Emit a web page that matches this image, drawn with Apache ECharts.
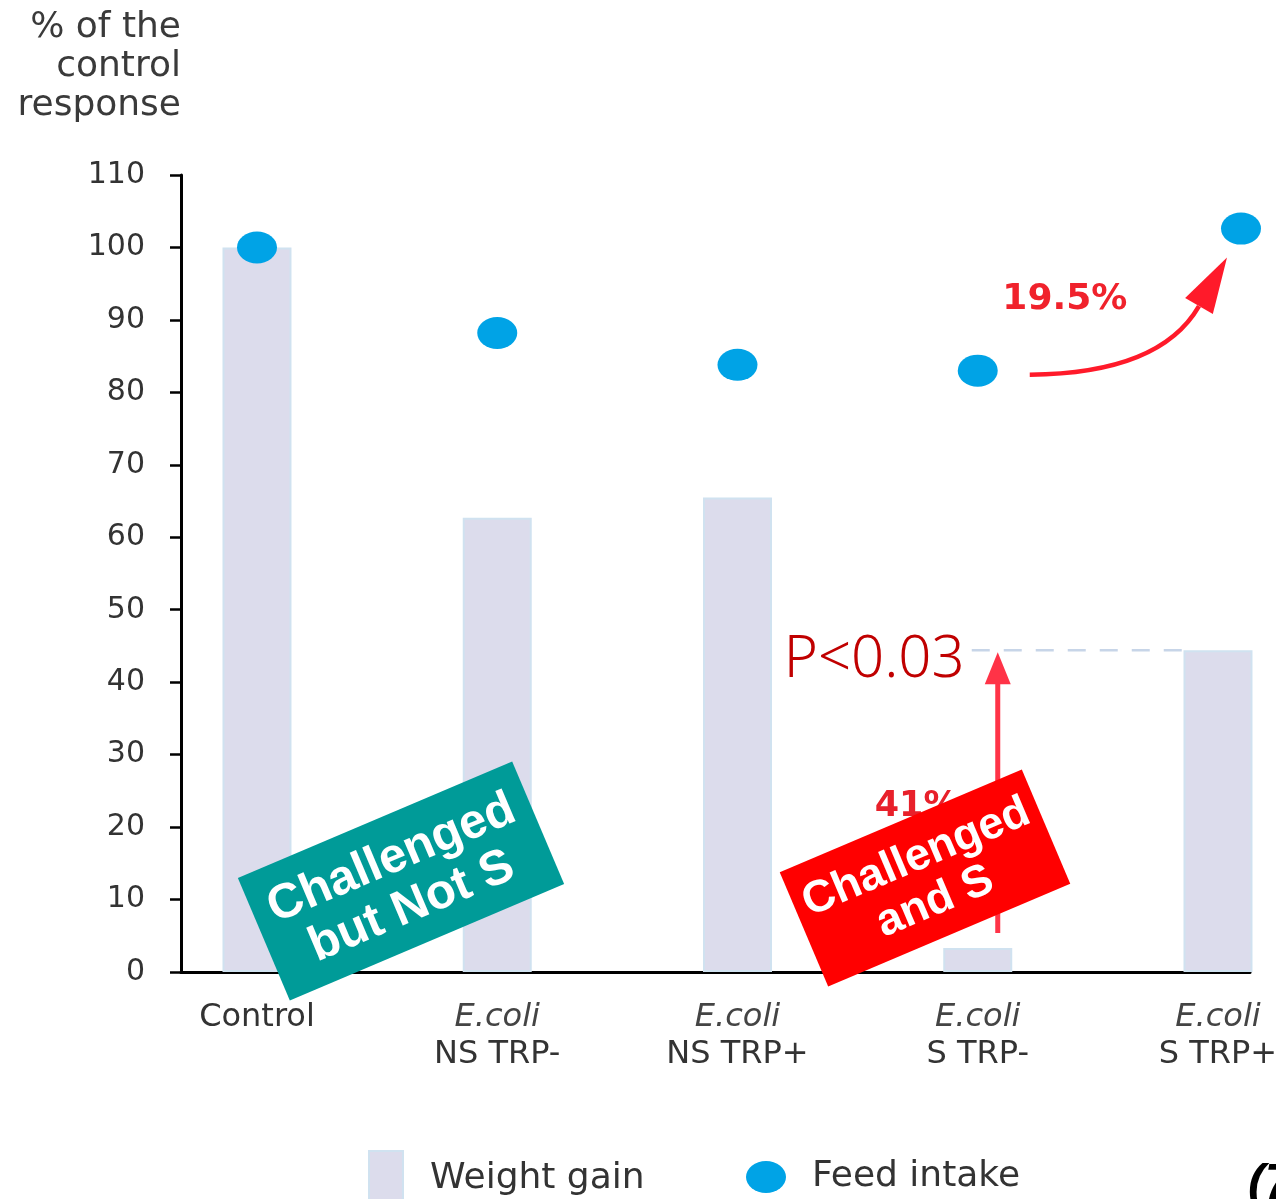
<!DOCTYPE html>
<html>
<head>
<meta charset="utf-8">
<script src="https://cdn.jsdelivr.net/npm/echarts@6/dist/echarts.min.js"></script>
<style>
  html, body { margin: 0; padding: 0; background: #fff; }
  #chart { width: 1276px; height: 1199px; }
</style>
</head>
<body>
<div id="chart"></div>
<script>
// Treatment groups (x positions are the group index on the value axis)
const groupPrefix = ['', 'E.coli', 'E.coli', 'E.coli', 'E.coli'];
const groupNames = ['Control', 'NS TRP-', 'NS TRP+', 'S TRP-', 'S TRP+'];

// Responses as % of the control
const weightGain = [100, 62.7, 65.5, 3.3, 44.4];
const feedIntake = [100, 88.2, 83.8, 83.0, 102.6];

// Annotation texts
const gainNote = '41%';
const intakeNote = '19.5%';
const pNote = 'P<0.03';

const FONT = 'DejaVu Sans';
const ELLIPSE = 'path://M0,16 A20,16 0 1,1 40,16 A20,16 0 1,1 0,16 Z';
const LAST_DOT_SHIFT = 23;

const chart = echarts.init(document.getElementById('chart'), null, { renderer: 'canvas' });

const barData = weightGain.map((v, i) => [i, v]);
const dotData = feedIntake.map((v, i) => {
  const item = { value: [i, v] };
  if (i === feedIntake.length - 1) item.symbolOffset = [LAST_DOT_SHIFT, 0];
  return item;
});

chart.setOption({
  animation: false,
  backgroundColor: '#fff',
  grid: { left: 181, right: 26, top: 175, bottom: 227, outerBoundsMode: 'none', containLabel: false },
  legend: [
    {
      data: ['Weight gain'], left: 368, top: 1150, padding: 0,
      icon: 'rect', itemWidth: 34, itemHeight: 56,
      textStyle: { fontSize: 36, color: '#333', fontFamily: FONT, padding: [0, 0, 0, 22] }
    },
    {
      data: ['Feed intake'], left: 746, top: 1159, padding: 0,
      icon: ELLIPSE, itemWidth: 40, itemHeight: 32,
      textStyle: { fontSize: 36, color: '#333', fontFamily: FONT, padding: [0, 0, 0, 21] }
    }
  ],
  xAxis: {
    type: 'value', min: -0.3163, max: 4.1332,
    splitLine: { show: false },
    axisTick: { show: false },
    axisLine: { show: true, lineStyle: { color: '#000', width: 3 } },
    axisLabel: {
      margin: 27,
      showMinLabel: true, showMaxLabel: true,
      formatter: function (v) {
        const i = Math.round(v);
        if (Math.abs(v - i) > 1e-6 || i < 0 || i >= groupNames.length) return '';
        return groupPrefix[i]
          ? '{i|' + groupPrefix[i] + '}\n{n|' + groupNames[i] + '}'
          : '{n|' + groupNames[i] + '}';
      },
      rich: {
        i: { fontFamily: FONT, fontStyle: 'italic', fontSize: 32, lineHeight: 37, color: '#444' },
        n: { fontFamily: FONT, fontSize: 32, lineHeight: 37, color: '#333' }
      }
    }
  },
  yAxis: {
    type: 'value', min: 0, max: 110, interval: 10,
    name: '% of the\ncontrol\nresponse',
    nameLocation: 'end', nameGap: 50,
    nameTextStyle: {
      align: 'right', verticalAlign: 'bottom',
      fontFamily: FONT, fontSize: 36, lineHeight: 39, color: '#3a3a3a'
    },
    splitLine: { show: false },
    axisLine: { show: true, onZero: false, lineStyle: { color: '#000', width: 3 } },
    axisTick: { show: true, length: 11, lineStyle: { color: '#000', width: 2.5 } },
    axisLabel: { margin: 36, fontFamily: FONT, fontSize: 30, color: '#333' }
  },
  series: [
    {
      name: 'Weight gain', type: 'bar', data: barData, barWidth: 69, clip: false,
      itemStyle: { color: '#dcdcec', borderColor: '#d0e2f0', borderWidth: 2 },
      z: 2
    },
    {
      name: 'Feed intake', type: 'scatter', data: dotData, clip: false,
      symbol: ELLIPSE, symbolSize: [40, 32],
      itemStyle: { color: '#00a3e6', opacity: 1 },
      z: 4
    }
  ]
});

// Annotations anchored on the data positions
const px = (x, y) => chart.convertToPixel({ gridIndex: 0 }, [x, y]);
const bar3 = px(3, weightGain[3]);
const bar4 = px(4, weightGain[4]);
const dot3 = px(3, feedIntake[3]);
const dot4 = px(4, feedIntake[4]);
dot4[0] += LAST_DOT_SHIFT;

const ax = bar3[0] + 20;
const yb = bar3[1] - 15;
const yt = bar4[1] + 2;
const RED = '#ff3347';

// curved arrow between feed intake dots
const S = [dot3[0] + 52, dot3[1] + 4];
const T = [dot4[0] - 14, dot4[1] + 29];
const dir = [0.5, -0.866];
const B = [T[0] - 56 * dir[0], T[1] - 56 * dir[1]];
const C = [B[0] - 78 * dir[0], B[1] - 78 * dir[1]];
const nrm = [-dir[1], dir[0]];

function box(cx, cy, w, h, deg, fill, text, size, lh) {
  return {
    type: 'group', x: cx, y: cy, rotation: deg * Math.PI / 180, z: 30,
    children: [
      { type: 'rect', z: 30, shape: { x: -w / 2, y: -h / 2, width: w, height: h }, style: { fill: fill } },
      {
        type: 'text', z: 31,
        style: {
          text: text, x: 0, y: 2, align: 'center', verticalAlign: 'middle',
          fontFamily: 'Liberation Sans', fontWeight: 'bold', fontSize: size, lineHeight: lh, fill: '#fff'
        }
      }
    ]
  };
}

chart.setOption({
  graphic: [
    {
      type: 'line', z: 10,
      shape: { x1: ax - 26, y1: bar4[1], x2: bar4[0] - 34, y2: bar4[1] },
      style: { stroke: '#c7d5e8', lineWidth: 2.5, lineDash: [18, 14] }
    },
    {
      type: 'line', z: 11,
      shape: { x1: ax, y1: yb, x2: ax, y2: yt + 28 },
      style: { stroke: RED, lineWidth: 5 }
    },
    {
      type: 'polygon', z: 11,
      shape: { points: [[ax, yt], [ax - 13, yt + 32], [ax + 13, yt + 32]] },
      style: { fill: RED }
    },
    {
      type: 'text', z: 12, x: ax - 214, y: yt + 8,
      style: {
        text: pNote, fontFamily: 'Noto Sans', fontWeight: 300, fontSize: 58,
        fill: '#c00000', verticalAlign: 'middle'
      }
    },
    {
      type: 'text', z: 12, x: ax - 123, y: yb - 0.45 * (yb - yt),
      style: {
        text: gainNote, fontFamily: FONT, fontWeight: 'bold', fontSize: 35,
        fill: '#e8202a', verticalAlign: 'middle'
      }
    },
    {
      type: 'bezierCurve', z: 12,
      shape: { x1: S[0], y1: S[1], cpx1: C[0], cpy1: C[1], x2: B[0], y2: B[1] },
      style: { stroke: '#ff1a2a', lineWidth: 4.5, fill: null }
    },
    {
      type: 'polygon', z: 12,
      shape: {
        points: [
          T,
          [B[0] + 16 * nrm[0], B[1] + 16 * nrm[1]],
          [B[0] - 16 * nrm[0], B[1] - 16 * nrm[1]]
        ]
      },
      style: { fill: '#ff1a2a' }
    },
    {
      type: 'text', z: 12, x: (S[0] + B[0]) / 2 - 112, y: 300,
      style: {
        text: intakeNote, fontFamily: FONT, fontWeight: 'bold', fontSize: 36,
        fill: '#f0222c', verticalAlign: 'middle'
      }
    },
    box(401, 881, 298, 133, 23, '#009b98', 'Challenged\nbut Not S', 49, 52),
    box(925, 878, 263, 124, 23, '#ff0000', 'Challenged\nand S', 45, 48),
    {
      type: 'text', z: 12, x: 1248, y: 1160,
      style: {
        text: '(7)', fontFamily: 'Liberation Sans', fontStyle: 'italic', fontWeight: 'bold',
        fontSize: 50, fill: '#000'
      }
    }
  ]
});
</script>
</body>
</html>
